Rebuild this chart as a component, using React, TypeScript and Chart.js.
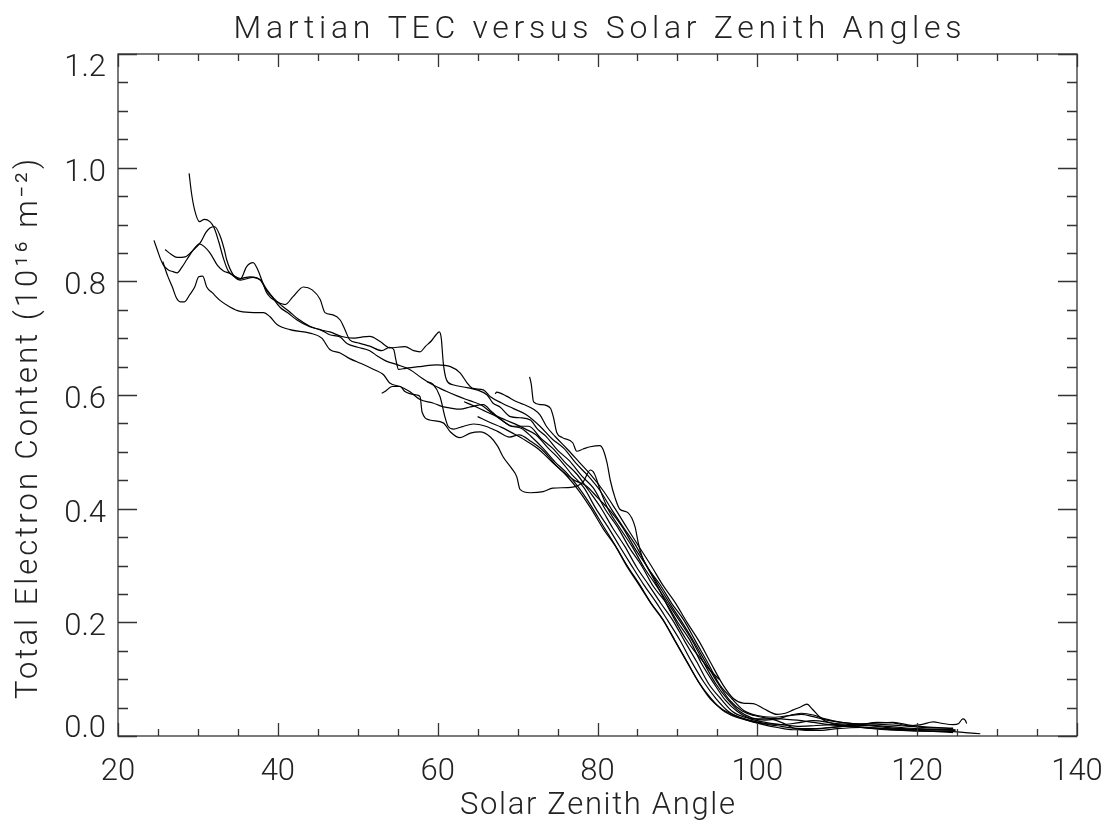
import React, { useEffect, useRef } from "react";
import { Chart, registerables } from "chart.js";

Chart.register(...registerables);

const TITLE = "Martian TEC versus Solar Zenith Angles";
const X_TITLE = "Solar Zenith Angle";
const Y_TITLE = "Total Electron Content (10\u00B9\u2076 m\u207B\u00B2)";

const X_MIN = 20;
const X_MAX = 140;
const Y_MIN = 0;
const Y_MAX = 1.2;
const xTickValues = [20, 40, 60, 80, 100, 120, 140];
const xTickLabels = ["20", "40", "60", "80", "100", "120", "140"];
const yTickValues = [0, 0.2, 0.4, 0.6, 0.8, 1.0, 1.2];
const yTickLabels = ["0.0", "0.2", "0.4", "0.6", "0.8", "1.0", "1.2"];
const xMinorStep = 5;
const yMinorStep = 0.05;

type P = [number, number];

const curveA: P[] = [[28.9,0.99],[29.2,0.955],[29.6,0.925],[30.2,0.905],[30.8,0.909],[31.5,0.905],[32.0,0.895],[32.6,0.87],[33.2,0.84],[33.8,0.818],[34.5,0.81],[35.3,0.805],[36.5,0.808],[37.8,0.803],[38.6,0.786],[39.5,0.77],[40.5,0.757],[41.5,0.746],[42.5,0.734],[44,0.721],[45.5,0.714],[46.5,0.711],[48,0.703],[49.4,0.70],[50.5,0.702],[51.5,0.703],[52.8,0.694],[54,0.683],[55.9,0.685],[57,0.678],[57.8,0.676],[58.5,0.686],[59.2,0.695],[59.8,0.706],[60.2,0.711],[60.45,0.70],[60.7,0.657],[61.1,0.627],[61.9,0.618],[63.7,0.613],[64.9,0.609],[66.2,0.60],[66.9,0.586],[67.8,0.579],[69.1,0.562],[70.3,0.56],[71.6,0.556],[72.5,0.54],[73.5,0.528],[75,0.503],[76.5,0.484],[78,0.458],[79.5,0.436],[81,0.398],[82.5,0.368],[84,0.331],[85.5,0.30],[87,0.263],[88.5,0.236],[90,0.201],[91.5,0.17],[93,0.128],[94.5,0.094],[96,0.063],[97.5,0.043],[99,0.031],[101,0.024],[103,0.02],[105,0.017],[107,0.018],[109.5,0.02],[112,0.017],[115,0.014],[118,0.012],[121,0.011],[124.8,0.01]];

const curveB: P[] = [[25.9,0.856],[26.6,0.848],[27.4,0.842],[28.4,0.843],[29.4,0.855],[30.3,0.868],[31.0,0.886],[31.5,0.894],[32.1,0.896],[32.8,0.879],[33.3,0.856],[33.6,0.838],[34.4,0.812],[35.3,0.804],[36.1,0.826],[36.9,0.833],[37.5,0.82],[38.1,0.798],[38.6,0.78],[39.9,0.764],[40.9,0.759],[41.9,0.773],[43.2,0.79],[44.3,0.785],[45.3,0.768],[45.9,0.745],[46.9,0.741],[47.8,0.732],[48.4,0.715],[49,0.697],[50,0.692],[51.5,0.686],[53,0.678],[54,0.684],[54.5,0.68],[54.8,0.66],[55.1,0.645],[56,0.647],[57.8,0.65],[59.9,0.653],[61.6,0.65],[62.8,0.639],[63.7,0.621],[64.3,0.612],[65.7,0.609],[66.6,0.597],[68,0.586],[69.5,0.576],[71,0.566],[72.8,0.545],[74.3,0.523],[75.8,0.506],[77.3,0.48],[78.8,0.458],[80.3,0.432],[81.8,0.398],[83.3,0.366],[84.8,0.335],[86.3,0.296],[87.8,0.267],[89.3,0.233],[90.8,0.204],[92.3,0.166],[93.8,0.129],[95.3,0.09],[96.8,0.066],[98.3,0.045],[100,0.036],[102,0.033],[104,0.036],[105.5,0.038],[107,0.034],[109,0.027],[112,0.022],[115,0.021],[118,0.018],[121,0.015],[124.5,0.013]];

const curveC: P[] = [[24.5,0.872],[24.9,0.856],[25.3,0.84],[25.7,0.828],[26.3,0.82],[26.9,0.817],[27.4,0.815],[28,0.825],[28.6,0.838],[29.4,0.855],[30.2,0.866],[30.8,0.861],[31.5,0.85],[32.5,0.827],[33.2,0.818],[34,0.814],[35.3,0.802],[36.9,0.807],[37.8,0.802],[38.6,0.784],[39.3,0.772],[40.3,0.754],[41.2,0.745],[42.4,0.732],[44,0.72],[45.3,0.715],[46.5,0.706],[47.8,0.702],[48.7,0.69],[50,0.684],[51.5,0.678],[52.5,0.668],[53.5,0.66],[55,0.653],[56.5,0.645],[58,0.63],[59.5,0.617],[61,0.607],[62.5,0.598],[64,0.59],[65.5,0.582],[67,0.566],[68.5,0.556],[70,0.547],[71,0.54],[72.3,0.53],[73.8,0.507],[75.3,0.486],[76.8,0.46],[78.3,0.437],[79.8,0.40],[81.3,0.368],[82.8,0.333],[84.3,0.299],[85.8,0.266],[87.3,0.236],[88.8,0.203],[90.3,0.169],[91.8,0.13],[93.3,0.095],[94.8,0.066],[96.3,0.044],[97.8,0.033],[99.3,0.027],[101,0.022],[103,0.02],[105,0.023],[107,0.027],[108.5,0.025],[110,0.02],[113,0.015],[116,0.011],[120,0.009],[124.5,0.008]];

const curveD: P[] = [[25.6,0.835],[26.2,0.81],[26.8,0.79],[27.3,0.771],[27.8,0.764],[28.3,0.764],[29,0.777],[29.6,0.79],[30.1,0.808],[30.6,0.809],[31.1,0.79],[31.8,0.78],[32.8,0.766],[34,0.755],[35.3,0.747],[37,0.745],[38.2,0.745],[39,0.738],[39.9,0.724],[41.5,0.715],[44,0.709],[45.5,0.70],[46.5,0.68],[47.8,0.674],[49,0.664],[50.5,0.655],[52,0.645],[53.2,0.636],[54,0.621],[55.3,0.615],[56.5,0.606],[57.8,0.592],[59.4,0.586],[60.5,0.58],[61.6,0.577],[62.8,0.575],[64.1,0.579],[65.7,0.583],[66.8,0.57],[68,0.556],[69.5,0.545],[71.4,0.545],[72.9,0.524],[74.4,0.506],[75.9,0.482],[77.4,0.461],[78.9,0.432],[80.4,0.402],[81.9,0.366],[83.4,0.334],[84.9,0.297],[86.4,0.266],[87.9,0.234],[89.4,0.204],[90.9,0.167],[92.4,0.131],[93.9,0.092],[95.4,0.066],[96.9,0.043],[98.4,0.033],[100,0.03],[101.5,0.03],[103,0.024],[104.5,0.014],[106,0.01],[108,0.01],[110,0.013],[113,0.015],[116,0.013],[119,0.01],[122,0.008],[124.5,0.006]];

const curveF: P[] = [[53,0.603],[53.4,0.606],[54.3,0.615],[55.3,0.615],[55.9,0.606],[57.4,0.60],[57.8,0.597],[58.05,0.57],[59,0.556],[60.7,0.551],[61.6,0.535],[62.8,0.525],[64.1,0.533],[65.3,0.535],[66.6,0.526],[67.5,0.51],[68.2,0.491],[69.3,0.47],[69.9,0.456],[70.3,0.434],[71.6,0.428],[73.2,0.43],[74.4,0.436],[76.9,0.438],[78.2,0.447],[79.1,0.468],[79.6,0.462],[80.3,0.434],[81.3,0.40],[82.8,0.366],[84.3,0.334],[85.8,0.297],[87.3,0.266],[88.8,0.234],[90.3,0.202],[91.8,0.169],[93.3,0.129],[94.8,0.092],[96.3,0.064],[97.8,0.043],[99.3,0.032],[101,0.028],[102.5,0.03],[104,0.036],[105.5,0.04],[107,0.037],[108.5,0.03],[110.5,0.024],[113,0.021],[115,0.023],[117,0.024],[119,0.019],[121,0.016],[124.5,0.014]];

const curveG: P[] = [[58.7,0.623],[59.4,0.619],[60.3,0.597],[60.9,0.562],[61.3,0.545],[62,0.54],[63,0.544],[64.5,0.549],[66,0.545],[67.5,0.536],[69,0.526],[70.2,0.53],[71.7,0.518],[73.2,0.502],[74.7,0.478],[76.2,0.457],[77.7,0.431],[79.2,0.40],[80.7,0.365],[82.2,0.335],[83.7,0.298],[85.2,0.266],[86.7,0.233],[88.2,0.204],[89.7,0.167],[91.2,0.13],[92.7,0.094],[94.2,0.066],[95.7,0.045],[97.2,0.034],[98.7,0.028],[100.5,0.022],[102.5,0.018],[104.5,0.014],[107,0.013],[110,0.016],[112,0.019],[114,0.018],[117,0.014],[120,0.012],[124,0.011]];

const curveH: P[] = [[67.2,0.602],[67.4,0.605],[68.6,0.598],[69.9,0.588],[71,0.582],[72,0.575],[72.8,0.565],[73.6,0.545],[74.7,0.527],[76.2,0.505],[77.7,0.482],[79.2,0.459],[80.7,0.432],[82.2,0.40],[83.7,0.366],[85.2,0.333],[86.7,0.30],[88.2,0.265],[89.7,0.235],[91.2,0.20],[92.7,0.167],[94.2,0.128],[95.7,0.09],[97,0.066],[98.2,0.058],[99.5,0.057],[100.8,0.048],[102.5,0.038],[103.5,0.04],[104.5,0.046],[105.4,0.051],[106.2,0.056],[106.9,0.047],[107.9,0.032],[108.7,0.025],[111,0.021],[114,0.019],[117,0.016],[120,0.013],[124.8,0.011]];

const curveI: P[] = [[71.5,0.632],[71.7,0.62],[72,0.588],[72.9,0.583],[74.1,0.577],[74.5,0.56],[74.9,0.534],[75.6,0.525],[76.9,0.516],[77.4,0.501],[78.2,0.505],[79.1,0.509],[80.3,0.511],[80.7,0.504],[81.2,0.48],[81.6,0.45],[82.2,0.419],[82.8,0.399],[83.8,0.393],[84.7,0.368],[85.1,0.34],[85.6,0.315],[86.2,0.298],[87,0.277],[88,0.25],[89,0.222],[90,0.196],[91,0.172],[92,0.152],[93,0.135],[94,0.117],[95.3,0.099]];

const curveJ: P[] = [[63.3,0.588],[64.5,0.581],[66,0.571],[67.5,0.561],[69,0.546],[70.5,0.541],[71.7,0.527],[73.2,0.506],[74.7,0.482],[76.2,0.462],[77.7,0.436],[79.2,0.405],[80.7,0.37],[82.2,0.336],[83.7,0.30],[85.2,0.268],[86.7,0.234],[88.2,0.205],[89.7,0.168],[91.2,0.131],[92.7,0.094],[94.2,0.064],[95.7,0.046],[97.2,0.036],[98.7,0.028],[100.5,0.021],[102.5,0.015],[104.5,0.011],[107,0.012],[110,0.016],[113,0.02],[115,0.024],[117,0.023],[119,0.018],[120.5,0.02],[122,0.025],[123.2,0.022],[124.5,0.02],[125.2,0.022],[125.7,0.03],[126,0.028],[126.2,0.022]];

const curveK: P[] = [[65,0.562],[66.5,0.552],[68,0.543],[69.5,0.532],[71,0.52],[72.6,0.505],[74.1,0.485],[75.6,0.466],[77.1,0.45],[78.6,0.44],[80.1,0.418],[81.6,0.396],[83.1,0.368],[84.6,0.332],[86.1,0.30],[87.6,0.266],[89.1,0.232],[90.6,0.20],[92.1,0.165],[93.6,0.128],[95.1,0.092],[96.6,0.062],[98.1,0.044],[99.6,0.036],[101,0.032],[103,0.03],[105,0.028],[107,0.024],[109,0.02],[112,0.016],[115,0.013],[118,0.01],[121,0.009],[124,0.008],[126,0.006],[127.9,0.004]];

const curves: P[][] = [curveA, curveB, curveC, curveD, curveF, curveG, curveH, curveI, curveJ, curveK];

const FONT = "Roboto, 'DejaVu Sans', sans-serif";
const TEXT_COLOR = "#222";

function drawFitted(ctx: CanvasRenderingContext2D, text: string, x: number, y: number, size: number, width: number | null, align: "left" | "center" | "right") {
  ctx.font = `300 ${size}px ${FONT}`;
  (ctx as any).letterSpacing = "0px";
  let w = ctx.measureText(text).width;
  if (width !== null && text.length > 1) {
    const sp = (width - w) / (text.length - 1);
    (ctx as any).letterSpacing = `${sp}px`;
    w = width + sp;
  }
  ctx.textAlign = "left";
  ctx.textBaseline = "alphabetic";
  let x0 = x;
  if (align === "center") x0 = x - (width ?? w) / 2;
  if (align === "right") x0 = x - w;
  ctx.fillText(text, x0, y);
  (ctx as any).letterSpacing = "0px";
}

const idlFrame = {
  id: "idlFrame",
  afterDraw(chart: any) {
    const { ctx, chartArea, scales } = chart;
    const { left, right, top, bottom } = chartArea;
    const xs = scales.x;
    const ys = scales.y;
    ctx.save();
    ctx.strokeStyle = "#333";
    ctx.lineWidth = 1.3;
    ctx.strokeRect(left, top, right - left, bottom - top);
    ctx.beginPath();
    const nx = Math.round((X_MAX - X_MIN) / xMinorStep);
    for (let i = 0; i <= nx; i++) {
      const v = X_MIN + i * xMinorStep;
      const px = Math.round(xs.getPixelForValue(v)) + 0.5;
      const len = i % 4 === 0 ? 13 : 7;
      ctx.moveTo(px, bottom); ctx.lineTo(px, bottom - len);
      ctx.moveTo(px, top); ctx.lineTo(px, top + len);
    }
    const ny = Math.round((Y_MAX - Y_MIN) / yMinorStep);
    for (let i = 0; i <= ny; i++) {
      const v = Y_MIN + i * yMinorStep;
      const py = Math.round(ys.getPixelForValue(v)) + 0.5;
      const len = i % 4 === 0 ? 19 : 10;
      ctx.moveTo(left, py); ctx.lineTo(left + len, py);
      ctx.moveTo(right, py); ctx.lineTo(right - len, py);
    }
    ctx.stroke();

    ctx.fillStyle = TEXT_COLOR;
    xTickValues.forEach((v, i) => {
      drawFitted(ctx, xTickLabels[i], xs.getPixelForValue(v), bottom + 44, 31, null, "center");
    });
    yTickValues.forEach((v, i) => {
      const py = ys.getPixelForValue(v);
      let off = 13;
      if (i === yTickValues.length - 1) off = 22;
      if (i === 0) off = 1;
      drawFitted(ctx, yTickLabels[i], left - 12, py + off, 31, null, "right");
    });
    drawFitted(ctx, TITLE, (left + right) / 2 + 0, 38, 32, 728, "center");
    drawFitted(ctx, X_TITLE, (left + right) / 2, 814, 31, 275, "center");
    ctx.save();
    ctx.translate(37, (top + bottom) / 2 + 34);
    ctx.rotate(-Math.PI / 2);
    drawFitted(ctx, Y_TITLE, 0, 0, 31, 540, "center");
    ctx.restore();
    ctx.restore();
  },
};

export default function App() {
  const ref = useRef<HTMLCanvasElement | null>(null);
  useEffect(() => {
    if (!ref.current) return;
    const chart = new Chart(ref.current, {
      type: "line",
      data: {
        datasets: curves.map((c, i) => ({
          label: `pass ${i + 1}`,
          data: c.map(([x, y]) => ({ x, y })),
          borderColor: "#000",
          borderWidth: 1.2,
          pointRadius: 0,
          fill: false,
          cubicInterpolationMode: "monotone" as const,
        })),
      },
      options: {
        responsive: false,
        animation: false,
        devicePixelRatio: 1,
        parsing: false,
        layout: { padding: { left: 118, right: 32, top: 54, bottom: 89 } },
        scales: {
          x: { type: "linear", min: X_MIN, max: X_MAX, display: false },
          y: { type: "linear", min: Y_MIN, max: Y_MAX, display: false },
        },
        plugins: { legend: { display: false }, tooltip: { enabled: false }, title: { display: false } },
      },
      plugins: [idlFrame],
    });
    return () => chart.destroy();
  }, []);
  return (
    <div style={{ position: "fixed", left: 0, top: 0, width: 1109, height: 825, background: "#fff" }}>
      <canvas ref={ref} width={1109} height={825} style={{ width: 1109, height: 825, display: "block" }} />
    </div>
  );
}
